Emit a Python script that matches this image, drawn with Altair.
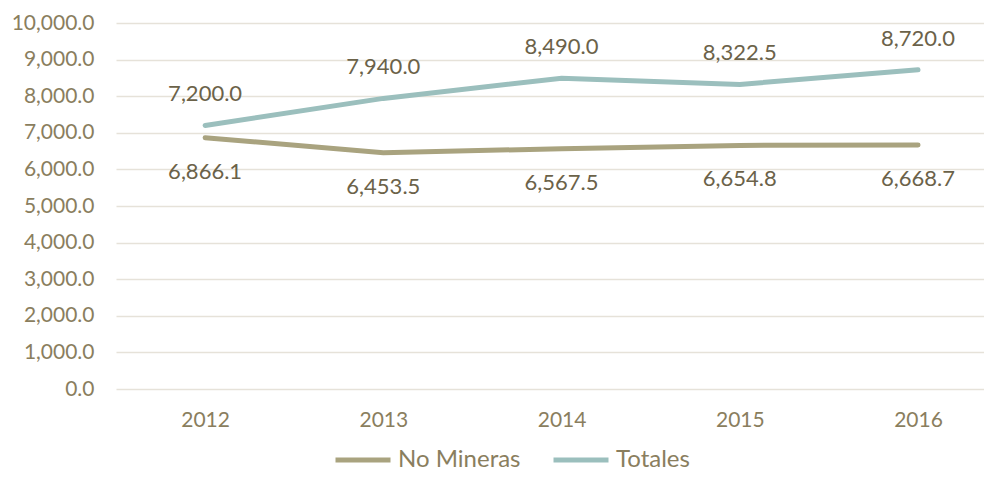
import altair as alt
import pandas as pd

years = [2012, 2013, 2014, 2015, 2016]
no_mineras = [6866.1, 6453.5, 6567.5, 6654.8, 6668.7]
totales = [7200.0, 7940.0, 8490.0, 8322.5, 8720.0]
series_names = ["No Mineras", "Totales"]
colors = ["#a9a37f", "#9bbfbd"]
y_ticks = [0, 1000, 2000, 3000, 4000, 5000, 6000, 7000, 8000, 9000, 10000]

rows = []
for i, y in enumerate(years):
    rows.append({"year": y, "serie": "No Mineras", "value": no_mineras[i]})
    rows.append({"year": y, "serie": "Totales", "value": totales[i]})
df = pd.DataFrame(rows)

FONT = "Lato"
AXIS_COLOR = "#8a7e5e"
LABEL_COLOR = "#6b6249"

x = alt.X("year:Q", title=None,
          scale=alt.Scale(domain=[2011.5, 2016.37], nice=False, zero=False),
          axis=alt.Axis(values=years, format="d", labelFontSize=21,
                        labelColor=AXIS_COLOR, labelFont=FONT, ticks=False,
                        domain=False, labelPadding=20, grid=False,
                        labelOverlap=False))
y = alt.Y("value:Q", title=None,
          scale=alt.Scale(domain=[0, 10000], nice=False),
          axis=alt.Axis(values=y_ticks, tickCount=11, format=",.1f",
                        labelFontSize=21, labelColor=AXIS_COLOR, labelFont=FONT,
                        ticks=False, domain=False, labelPadding=22,
                        labelOverlap=False, gridColor="#e6e2d9", gridWidth=1.5))

color = alt.Color("serie:N", title=None,
                  scale=alt.Scale(domain=series_names, range=colors),
                  legend=alt.Legend(orient="none", legendX=217, legendY=423,
                                    direction="horizontal", symbolType="stroke",
                                    symbolSize=3025, symbolStrokeWidth=5,
                                    clipHeight=28,
                                    labelFontSize=24, labelFont=FONT,
                                    labelColor=AXIS_COLOR, columnPadding=30,
                                    labelOffset=5, padding=0))

lines = alt.Chart(df).mark_line(strokeWidth=5, strokeCap="round").encode(
    x=x, y=y, color=color)

txt_top = alt.Chart(df[df.serie == "Totales"]).mark_text(
    dy=-31, fontSize=22, font=FONT, color=LABEL_COLOR, baseline="middle").encode(
    x=x, y=y, text=alt.Text("value:Q", format=",.1f"))
txt_bot = alt.Chart(df[df.serie == "No Mineras"]).mark_text(
    dy=34, fontSize=22, font=FONT, color=LABEL_COLOR, baseline="middle").encode(
    x=x, y=y, text=alt.Text("value:Q", format=",.1f"))

chart = alt.layer(lines, txt_top, txt_bot).properties(
    width=868, height=366,
    autosize=alt.AutoSizeParams(type="none"),
    padding={"left": 108, "top": 15, "right": 0, "bottom": 88},
).configure(background="white").configure_view(stroke=None)

chart.save("out.html", embed_options={"renderer": "svg", "actions": False})
